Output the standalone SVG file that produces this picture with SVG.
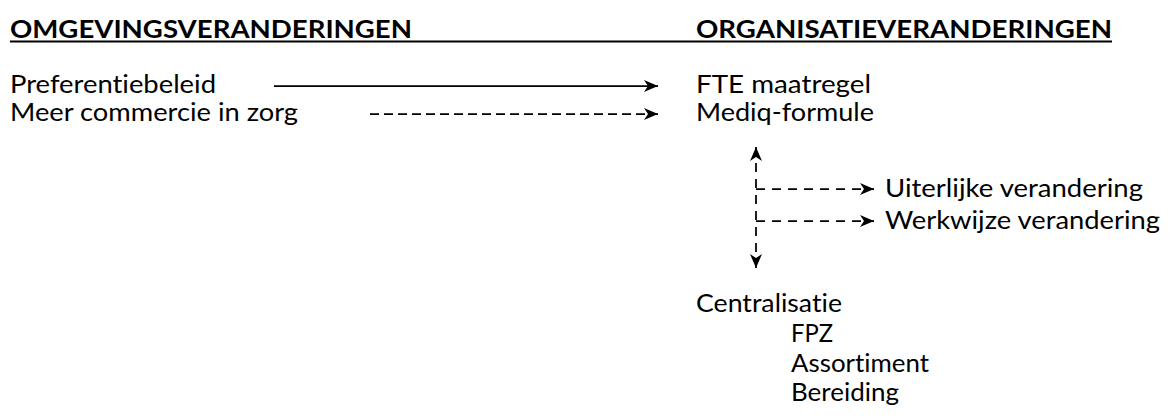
<svg xmlns="http://www.w3.org/2000/svg" width="1170" height="418" viewBox="0 0 1170 418">
<defs>
<style>
text{font-family:Lato,"Open Sans","Liberation Sans",sans-serif;font-size:25px;fill:#000;font-variant-ligatures:none}
.h{font-weight:bold}
.ln{stroke:#000;stroke-width:1.75;fill:none}
.d{stroke-dasharray:9 5}
.ds{stroke-dasharray:9 7}
</style>
<marker id="ah" markerUnits="userSpaceOnUse" markerWidth="15" markerHeight="13" refX="14" refY="6.5" orient="auto-start-reverse" viewBox="0 0 15 13">
<path d="M0,0.5 L14,6.5 L0,12.5 L4,6.5 Z" fill="#000"/>
</marker>
</defs>
<rect width="1170" height="418" fill="#fff"/>
<g id="headings">
<text class="h" x="10" y="38" textLength="402" lengthAdjust="spacingAndGlyphs">OMGEVINGSVERANDERINGEN</text>
<text class="h" x="696" y="38" textLength="416" lengthAdjust="spacingAndGlyphs">ORGANISATIEVERANDERINGEN</text>
<line x1="10" y1="41.5" x2="1112" y2="41.5" stroke="#000" stroke-width="2.2"/>
</g>
<g id="n-preferentiebeleid"><text x="10" y="93" textLength="206" lengthAdjust="spacingAndGlyphs">Preferentiebeleid</text></g>
<g id="n-commercie"><text x="10" y="121" textLength="288" lengthAdjust="spacingAndGlyphs">Meer commercie in zorg</text></g>
<g id="n-fte"><text x="696" y="93" textLength="175" lengthAdjust="spacingAndGlyphs">FTE maatregel</text></g>
<g id="n-mediq"><text x="696" y="121" textLength="178" lengthAdjust="spacingAndGlyphs">Mediq-formule</text></g>
<g id="n-uiterlijk"><text x="885" y="197" textLength="258" lengthAdjust="spacingAndGlyphs">Uiterlijke verandering</text></g>
<g id="n-werkwijze"><text x="885" y="229" textLength="275" lengthAdjust="spacingAndGlyphs">Werkwijze verandering</text></g>
<g id="n-centralisatie">
<text x="696" y="312" textLength="146" lengthAdjust="spacingAndGlyphs">Centralisatie</text>
<text x="791" y="342" textLength="42" lengthAdjust="spacingAndGlyphs">FPZ</text>
<text x="791" y="372" textLength="138" lengthAdjust="spacingAndGlyphs">Assortiment</text>
<text x="791" y="401" textLength="108" lengthAdjust="spacingAndGlyphs">Bereiding</text>
</g>
<g id="connectors">
<line class="ln" x1="274" y1="86" x2="658" y2="86" marker-end="url(#ah)"/>
<line class="ln d" x1="370" y1="114" x2="658" y2="114" marker-end="url(#ah)"/>
<line class="ln ds" x1="756" y1="147" x2="756" y2="268" marker-start="url(#ah)" marker-end="url(#ah)"/>
<line class="ln ds" x1="756" y1="189" x2="874" y2="189" marker-end="url(#ah)"/>
<line class="ln ds" x1="756" y1="221" x2="874" y2="221" marker-end="url(#ah)"/>
</g>
</svg>
